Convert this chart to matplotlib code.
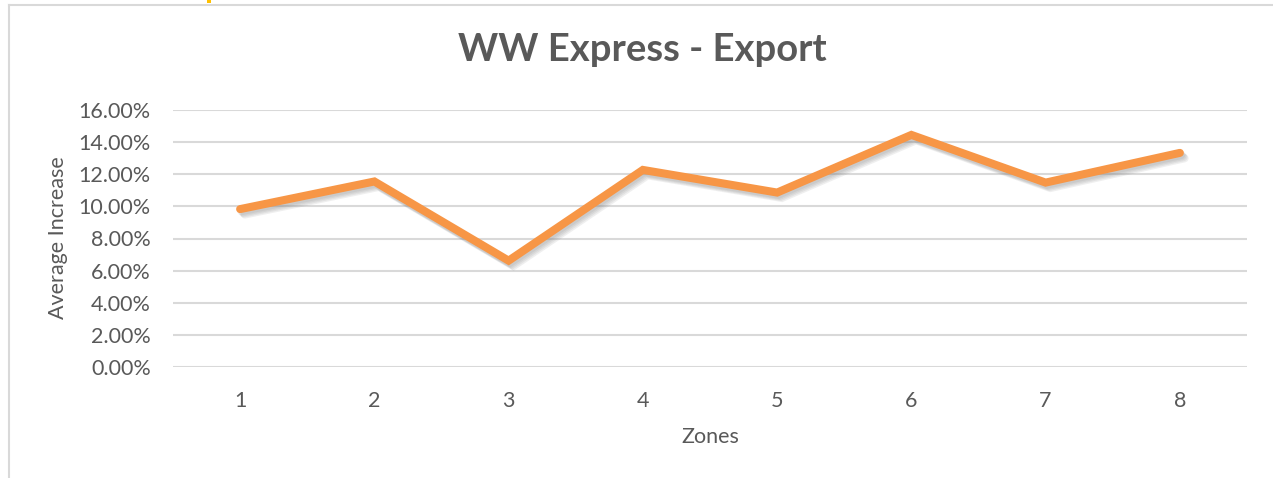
import matplotlib
matplotlib.use("Agg")
import matplotlib.pyplot as plt
import matplotlib.patheffects as pe
from matplotlib.lines import Line2D
from matplotlib.patches import Rectangle
from matplotlib.ticker import PercentFormatter

# values
zones = [1, 2, 3, 4, 5, 6, 7, 8]
avg_increase = [0.0983, 0.1155, 0.0662, 0.1227, 0.1086, 0.1445, 0.1148, 0.1333]
y_ticks = [0.0, 0.02, 0.04, 0.06, 0.08, 0.10, 0.12, 0.14, 0.16]

W, H = 1273, 478
grey_txt = "#595959"
grey_grid = "#D9D9D9"
orange = "#F79646"

plt.rcParams["font.family"] = ["Lato", "DejaVu Sans"]

fig = plt.figure(figsize=(W / 100, H / 100), dpi=100)

# chart border (top and left visible, cut off right/bottom)
fig.add_artist(Line2D([8.5 / W, 1], [1 - 4.5 / H, 1 - 4.5 / H], color=grey_grid, lw=1.5))
fig.add_artist(Line2D([8.5 / W, 8.5 / W], [0, 1 - 4.5 / H], color=grey_grid, lw=1.5))
fig.add_artist(Rectangle((207 / W, 1 - 3 / H), 4 / W, 3 / H, color="#FFC000", lw=0))

ax = fig.add_axes([173 / W, 1 - 367 / H, (1247 - 173) / W, (367 - 110) / H])

line, = ax.plot(zones, avg_increase, color=orange, lw=5.8, solid_capstyle="round",
                solid_joinstyle="miter", zorder=3)
# soft drop shadow, a few stacked offsets to fake the blur
shadows = [pe.SimpleLineShadow(offset=(dx, -dx - 0.5), shadow_color="#7f7f7f", alpha=0.12)
           for dx in (1.0, 1.8, 2.6, 3.4)]
line.set_path_effects(shadows + [pe.Normal()])

ax.set_xlim(0.5, 8.5)
ax.set_ylim(0, 0.16)
ax.set_xticks(zones)
ax.set_yticks(y_ticks)
ax.yaxis.set_major_formatter(PercentFormatter(1.0, decimals=2))

for s in ax.spines.values():
    s.set_visible(False)
ax.grid(axis="y", color=grey_grid, lw=1.5)
ax.set_axisbelow(True)
ax.tick_params(length=0, labelsize=15.5, colors=grey_txt)
ax.tick_params(axis="y", pad=16)
ax.tick_params(axis="x", pad=17)

fig.text(642 / W, 1 - 50 / H, "WW Express - Export", ha="center", va="center",
         fontsize=27.5, fontweight="bold", color=grey_txt)
fig.text(710 / W, 1 - 437 / H, "Zones", ha="center", va="center", fontsize=15.5, color=grey_txt)
fig.text(58 / W, 1 - 238 / H, "Average Increase", ha="center", va="center", rotation=90,
         fontsize=15.5, color=grey_txt)

fig.savefig("out.png", dpi=100)
